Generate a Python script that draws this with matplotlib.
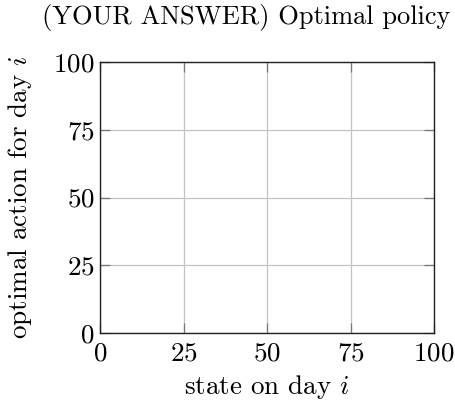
import matplotlib
matplotlib.use("Agg")
import matplotlib.pyplot as plt

plt.rcParams["font.family"] = ["cmr10", "DejaVu Serif"]
plt.rcParams["mathtext.fontset"] = "cm"
plt.rcParams["axes.formatter.use_mathtext"] = True

x_ticks = [0, 25, 50, 75, 100]
y_ticks = [0, 25, 50, 75, 100]
x_limits = (0, 100)
y_limits = (0, 100)
title = "(YOUR ANSWER) Optimal policy"
x_label = "state on day $i$"
y_label = "optimal action for day $i$"

fs = 19.5
fig = plt.figure(figsize=(4.55, 4.03), dpi=100)
ax = fig.add_axes([100 / 455, 1 - 333 / 403, 334 / 455, 271 / 403])
ax.set_xlim(*x_limits)
ax.set_ylim(*y_limits)
ax.set_xticks(x_ticks)
ax.set_yticks(y_ticks)
ax.grid(True, color="#c4c4c4", linewidth=0.9)
ax.set_axisbelow(True)
for s in ax.spines.values():
    s.set_linewidth(1.0)
    s.set_color("#222222")
ax.tick_params(direction="in", length=7.5, width=0.9, color="#777777",
               labelsize=fs, top=True, right=True)
ax.tick_params(axis="x", pad=6)
ax.tick_params(axis="y", pad=4)
ax.set_xlabel(x_label, fontsize=fs, labelpad=6)
ax.set_ylabel(y_label, fontsize=fs, labelpad=14)
fig.text(246.5 / 455, 1 - 17.5 / 403, title, fontsize=19, ha="center", va="center")
fig.savefig("out.png", dpi=100)
